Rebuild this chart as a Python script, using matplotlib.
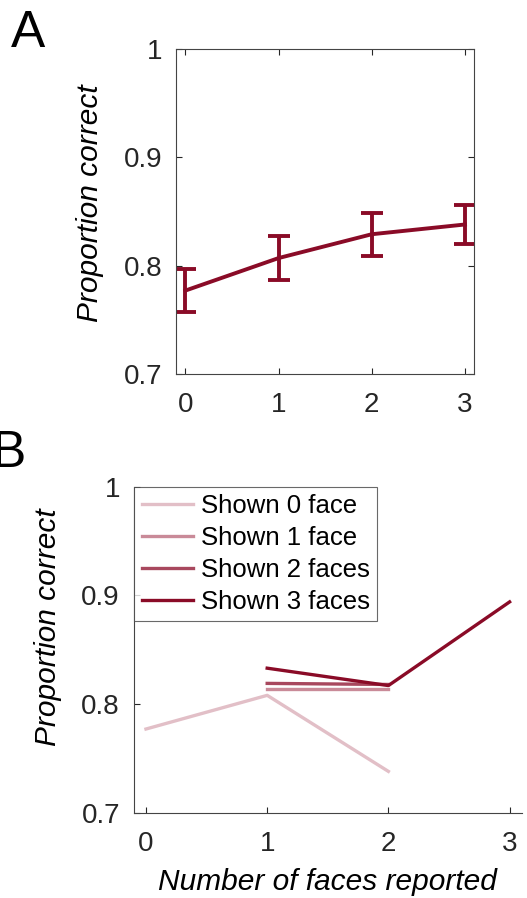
import matplotlib
matplotlib.use("Agg")
import matplotlib.pyplot as plt

plt.rcParams['font.family'] = ['Liberation Sans', 'DejaVu Sans']

# panel A: overall accuracy by number of faces reported
reported = [0, 1, 2, 3]
acc_mean = [0.777, 0.807, 0.829, 0.838]
acc_err = [0.020, 0.020, 0.020, 0.018]

# panel B: split by number of faces shown
shown_labels = ["Shown 0 face", "Shown 1 face", "Shown 2 faces", "Shown 3 faces"]
shown_x = [[0, 1, 2], [1, 2], [1, 2], [1, 2, 3]]
shown_y = [[0.777, 0.808, 0.738],
           [0.814, 0.814],
           [0.819, 0.818],
           [0.833, 0.817, 0.894]]
shown_colors = ["#e2bfc7", "#c98a98", "#a8485e", "#8a0b27"]

dark = "#8a0b27"
axc = "#262626"

fig = plt.figure(figsize=(5.27, 8.98), dpi=100)


def style(ax, box, label_y):
    ax.set_xlim(-0.1, 3.1)
    ax.set_ylim(0.7, 1.0)
    ax.set_xticks(reported)
    ax.set_yticks([0.7, 0.8, 0.9, 1.0])
    ax.set_yticklabels(["0.7", "0.8", "0.9", "1"])
    ax.tick_params(direction="in", length=4, width=0.8, colors=axc,
                   labelsize=20, top=box, right=box)
    ax.tick_params(axis="x", pad=13)
    ax.tick_params(axis="y", pad=10)
    for s in ax.spines.values():
        s.set_color("#444444")
        s.set_linewidth(0.8)
    if not box:
        ax.spines["top"].set_visible(False)
        ax.spines["right"].set_visible(False)
    ax.set_ylabel("Proportion correct", fontsize=21.5, style="italic",
                  color="black", labelpad=14)
    ax.yaxis.label.set_y(label_y)


#
# panel A
#
axA = fig.add_axes([0.334, 0.5835, 0.566, 0.362])
axA.errorbar(reported, acc_mean, yerr=acc_err, color=dark, lw=2.8,
             capsize=8, capthick=2.8, elinewidth=2.8)
style(axA, True, 0.525)

#
# panel B
#
axB = fig.add_axes([0.254, 0.095, 0.736, 0.363])
for xs, ys, c, lab in zip(shown_x, shown_y, shown_colors, shown_labels):
    axB.plot(xs, ys, color=c, lw=2.4, label=lab)
style(axB, False, 0.568)
axB.set_xlabel("Number of faces reported", fontsize=21.5, style="italic",
               color="black", labelpad=8)
leg = axB.legend(loc="upper left", bbox_to_anchor=(0, 1), borderaxespad=0,
                 fontsize=18.5, fancybox=False, handlelength=2.0,
                 handletextpad=0.3, labelspacing=0.3, borderpad=0.3)
leg.get_frame().set_edgecolor("#444444")
leg.get_frame().set_linewidth(0.8)

fig.text(11 / 527, 1 - 9 / 898, "A", fontsize=37, ha="left", va="top")
fig.text(-8 / 527, 1 - 429 / 898, "B", fontsize=37, ha="left", va="top")

fig.savefig("out.png", dpi=100)
